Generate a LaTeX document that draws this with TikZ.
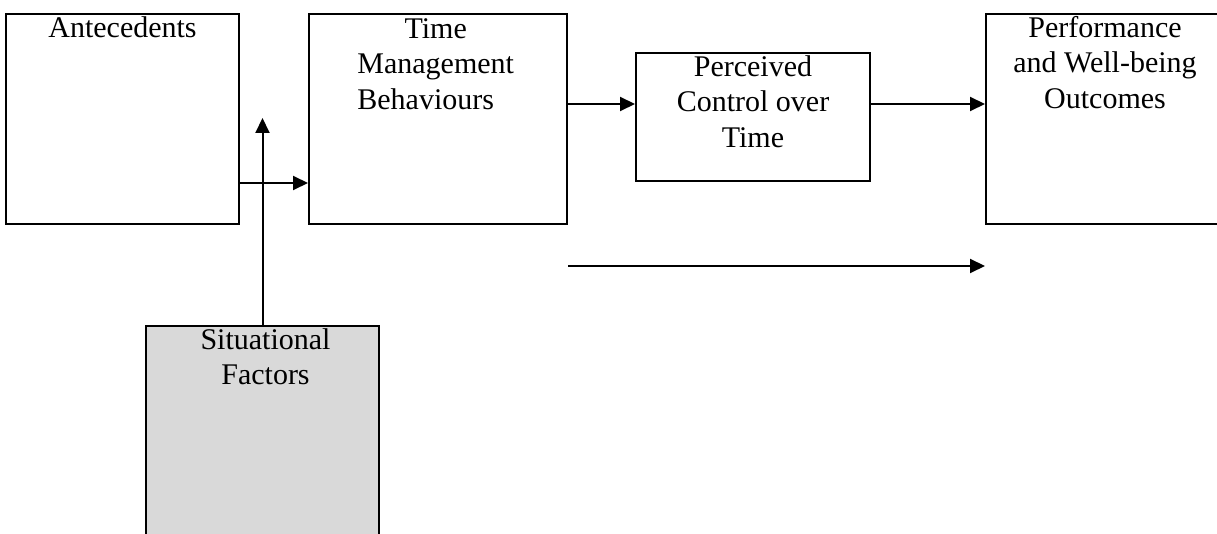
\documentclass[tikz,border=0pt]{standalone}
\usepackage{fontspec}
\usepackage{calc}
\setmainfont{Liberation Serif}
\usetikzlibrary{arrows.meta}
\definecolor{sitgray}{RGB}{217,217,217}
\tikzset{
    box/.style={draw, line width=1pt, inner sep=0pt},
    label/.style={anchor=north, inner sep=0pt, align=center,
        font=\fontsize{15pt}{17.75pt}\selectfont},
    arr/.style={->, line width=1pt}
}
\begin{document}
\begin{tikzpicture}[x=0.5pt, y=-0.5pt, >={Triangle[length=7.5pt,width=7pt]}]
    % Frame of the picture
    \clip (0,0) rectangle (1217,534);

    % Boxes
    \node[box, minimum width=116.5pt, minimum height=105pt] (ante) at (122.5,119) {};
    \node[box, minimum width=129pt, minimum height=105pt] (tmb) at (438,119) {};
    \node[box, minimum width=117pt, minimum height=64pt] (pct) at (753,117) {};
    \node[box, minimum width=119pt, minimum height=105pt] (perf) at (1105,119) {};
    \node[box, fill=sitgray, minimum width=116.5pt, minimum height=122pt] (sit) at (262.5,448) {};

    % Box texts
    \node[label] (anteText) at ([yshift=0.6pt]ante.north) {\strut Antecedents};
    \node[label, anchor=north west, align=left] (tmbText) at (357,13)
        {\strut\makebox[\widthof{Management}]{Time}\\Management\\Behaviours};
    \node[label] (pctText) at ([yshift=0.6pt]pct.north) {\strut Perceived\\Control over\\Time};
    \node[label] (perfText) at ([yshift=0.6pt]perf.north) {\strut Performance\\and Well-being\\Outcomes};
    \node[label] (sitText) at ([xshift=1.5pt, yshift=0.6pt]sit.north) {\strut Situational\\Factors};

    % Heights of the connectors
    \coordinate (lowJoin) at (0,183);
    \coordinate (midJoin) at (0,104);
    \coordinate (baseJoin) at (0,266);
    \coordinate (sitTip) at (262.5,118);

    % Connectors
    \draw[arr] (ante.east |- lowJoin) -- (tmb.west |- lowJoin);
    \draw[arr] (sit.north) -- (sitTip);
    \draw[arr] (tmb.east |- midJoin) -- (pct.west |- midJoin);
    \draw[arr] (pct.east |- midJoin) -- (perf.west |- midJoin);
    \draw[arr] (tmb.east |- baseJoin) -- (perf.west |- baseJoin);
\end{tikzpicture}
\end{document}
